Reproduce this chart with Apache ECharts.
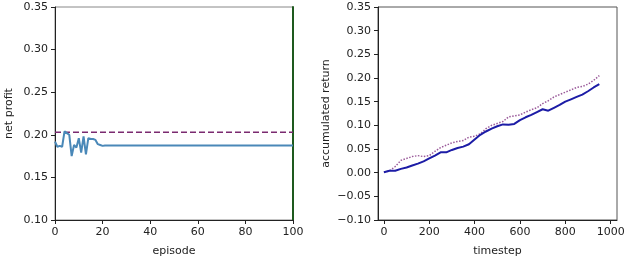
<!DOCTYPE html>
<html>
<head>
<meta charset="utf-8">
<script src="https://cdn.jsdelivr.net/npm/echarts@6/dist/echarts.min.js"></script>
<style>html,body{margin:0;padding:0;background:#fff}#c{width:630px;height:262px}</style>
</head>
<body>
<div id="c"></div>
<script>
// Left chart: net profit per episode
const episodes = [0,1,2,3,4,5,6,7,8,9,10,11,12,13,14,15,16,17,18,19,20,21,100];
const netProfit = [0.192,0.186,0.187,0.186,0.204,0.202,0.200,0.175,0.188,0.185,0.196,0.179,0.198,0.177,0.196,0.195,0.195,0.194,0.189,0.188,0.187,0.1875,0.1875];
const baselineEpisodes = [0,100];
const baselineProfit = [0.203,0.203];
const leftXTicks = [0,20,40,60,80,100];
const leftYTicks = [0.10,0.15,0.20,0.25,0.30,0.35];

// Right chart: accumulated return per timestep
const timesteps = [0,25,50,75,100,125,150,175,200,225,250,275,300,325,350,375,400,425,450,475,500,525,550,575,600,625,650,675,700,725,750,775,800,825,850,875,900,925,950];
const agentReturn = [0.001,0.004,0.004,0.008,0.011,0.015,0.019,0.024,0.030,0.036,0.043,0.043,0.048,0.052,0.055,0.060,0.070,0.080,0.087,0.093,0.098,0.102,0.101,0.103,0.111,0.117,0.122,0.128,0.134,0.131,0.137,0.143,0.150,0.155,0.160,0.165,0.172,0.180,0.187];
const baselineReturn = [0.001,0.004,0.013,0.026,0.030,0.034,0.036,0.034,0.036,0.045,0.053,0.058,0.063,0.066,0.068,0.075,0.077,0.082,0.093,0.100,0.104,0.108,0.118,0.120,0.122,0.128,0.133,0.137,0.146,0.152,0.160,0.165,0.170,0.175,0.180,0.182,0.187,0.195,0.205];
const rightXTicks = [0,200,400,600,800,1000];
const rightYTicks = [-0.10,-0.05,0.00,0.05,0.10,0.15,0.20,0.25,0.30,0.35];

const pairs = (xs, ys) => xs.map((x, i) => [x, ys[i]]);
const fmt = v => (v < 0 ? '\u2212' : '') + Math.abs(v).toFixed(2);
const FONT = 'DejaVu Sans';
const txt = {color:'#222', fontFamily:FONT, fontSize:11};

const chart = echarts.init(document.getElementById('c'), null, {renderer:'canvas'});
chart.setOption({
  animation:false,
  backgroundColor:'#fff',
  grid:[
    {left:55, top:7, width:238, height:216, show:true, borderColor:'#888', borderWidth:1, containLabel:false},
    {left:378, top:7, width:239, height:216, show:true, borderColor:'#555', borderWidth:1, containLabel:false}
  ],
  xAxis:[
    {gridIndex:0, type:'value', min:0, max:100, interval:20,
     name:'episode', nameLocation:'middle', nameGap:26, nameTextStyle:txt,
     axisLine:{show:true, onZero:false, lineStyle:{color:'#222', width:1}},
     axisTick:{show:true, inside:false, length:4, lineStyle:{color:'#222'}},
     axisLabel:Object.assign({margin:7, formatter:v=>String(v)}, txt),
     splitLine:{show:false}},
    {gridIndex:1, type:'value', min:-26, max:1028,
     name:'timestep', nameLocation:'middle', nameGap:26, nameTextStyle:txt,
     axisLine:{show:true, onZero:false, lineStyle:{color:'#222', width:1}},
     axisTick:{show:true, inside:false, length:4, customValues:rightXTicks, lineStyle:{color:'#222'}},
     axisLabel:Object.assign({margin:7, customValues:rightXTicks, formatter:v=>String(v)}, txt),
     splitLine:{show:false}}
  ],
  yAxis:[
    {gridIndex:0, type:'value', min:0.10, max:0.35, interval:0.05,
     name:'net profit', nameLocation:'middle', nameGap:40, nameRotate:90, nameTextStyle:txt,
     axisLine:{show:true, onZero:false, lineStyle:{color:'#222', width:1}},
     axisTick:{show:true, inside:false, length:4, lineStyle:{color:'#222'}},
     axisLabel:Object.assign({margin:7, formatter:fmt}, txt),
     splitLine:{show:false}},
    {gridIndex:0, type:'value', position:'right', min:0.10, max:0.35,
     axisLine:{show:true, onZero:false, lineStyle:{color:'#1e5a1e', width:2}},
     axisTick:{show:false}, axisLabel:{show:false}, splitLine:{show:false}},
    {gridIndex:1, type:'value', min:-0.10, max:0.35, interval:0.05,
     name:'accumulated return', nameLocation:'middle', nameGap:46, nameRotate:90, nameTextStyle:txt,
     axisLine:{show:true, onZero:false, lineStyle:{color:'#222', width:1}},
     axisTick:{show:true, inside:false, length:4, lineStyle:{color:'#222'}},
     axisLabel:Object.assign({margin:7, formatter:fmt}, txt),
     splitLine:{show:false}}
  ],
  series:[
    {type:'line', xAxisIndex:0, yAxisIndex:0, data:pairs(baselineEpisodes, baselineProfit),
     showSymbol:false, lineStyle:{color:'#7b2a70', width:1.5, type:[6,3]}, z:3},
    {type:'line', xAxisIndex:0, yAxisIndex:0, data:pairs(episodes, netProfit),
     showSymbol:false, lineStyle:{color:'#4a88b8', width:2}, z:4},
    {type:'line', xAxisIndex:1, yAxisIndex:2, data:pairs(timesteps, baselineReturn),
     showSymbol:false, lineStyle:{color:'#9a5a9a', width:1.5, type:'dotted'}, z:3},
    {type:'line', xAxisIndex:1, yAxisIndex:2, data:pairs(timesteps, agentReturn),
     showSymbol:false, lineStyle:{color:'#1c1ca6', width:2}, z:4}
  ]
});
</script>
</body>
</html>
